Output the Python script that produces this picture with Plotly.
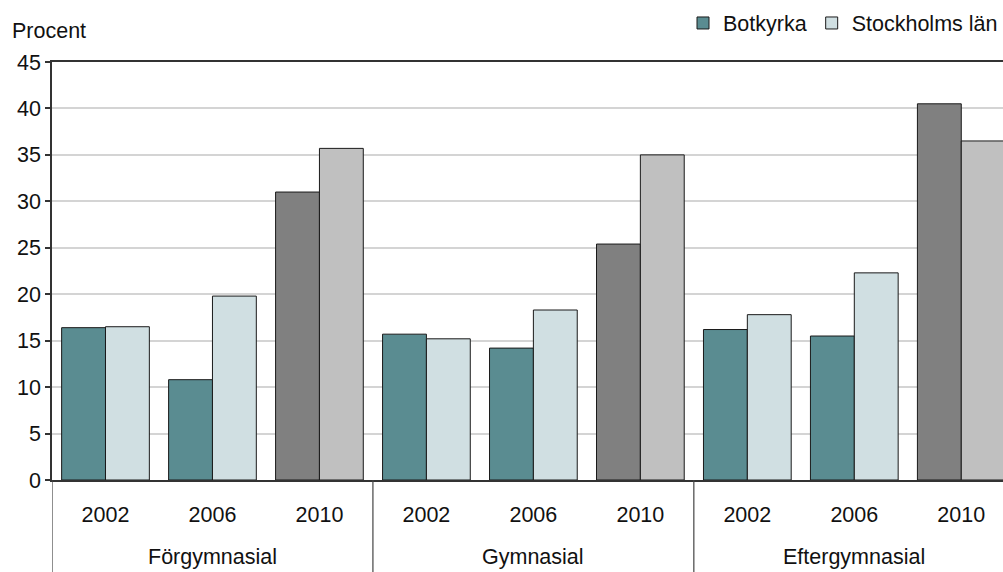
import plotly.graph_objects as go

groups = ["Förgymnasial", "Gymnasial", "Eftergymnasial"]
years = ["2002", "2006", "2010"]
botkyrka = [16.4, 10.8, 31.0, 15.7, 14.2, 25.4, 16.2, 15.5, 40.5]
stockholm = [16.5, 19.8, 35.7, 15.2, 18.3, 35.0, 17.8, 22.3, 36.5]

cats = [f"{g} {y}" for g in groups for y in years]
cat_years = [y for g in groups for y in years]

teal = "#5A8C91"
light = "#D0DFE2"
dark_gray = "#808080"
light_gray = "#C0C0C0"
bot_colors = [dark_gray if y == "2010" else teal for y in cat_years]
sto_colors = [light_gray if y == "2010" else light for y in cat_years]

font_family = "Liberation Sans, Arial, sans-serif"
fs = 21.5
edge = dict(color="#1a1a1a", width=1)

fig = go.Figure()
fig.add_trace(go.Bar(x=cats, y=botkyrka, name="Botkyrka",
                     marker=dict(color=bot_colors, line=edge)))
fig.add_trace(go.Bar(x=cats, y=stockholm, name="Stockholms län",
                     marker=dict(color=sto_colors, line=edge)))

plot_h = 572 - 62 - 92
annotations = [dict(text="Procent", xref="paper", yref="paper", x=-42 / 951, y=1 + 31 / plot_h,
                    xanchor="left", yanchor="middle", showarrow=False, font=dict(size=fs))]
shapes = []
n = len(years)
for i, g in enumerate(groups):
    annotations.append(dict(text=g, xref="x", yref="paper", x=cats[i * n + n // 2],
                            y=-(557 - 480) / plot_h, xanchor="center", yanchor="middle",
                            showarrow=False, font=dict(size=fs)))
    shapes.append(dict(type="line", xref="x", yref="paper", x0=i * n - 0.5, x1=i * n - 0.5,
                       y0=0, y1=-92 / plot_h, line=dict(color="#444444", width=1.2)))

fig.update_layout(
    width=1003, height=572,
    margin=dict(l=52, r=0, t=62, b=92),
    paper_bgcolor="white", plot_bgcolor="white",
    barmode="group", bargap=0.18, bargroupgap=0,
    font=dict(family=font_family, size=fs, color="#111111"),
    showlegend=True,
    legend=dict(orientation="h", x=1.0, xanchor="right", y=1 + 39 / plot_h, yanchor="middle",
                font=dict(size=fs), bgcolor="rgba(0,0,0,0)", itemwidth=30),
    annotations=annotations,
    shapes=shapes,
)
fig.update_xaxes(type="category", range=[-0.5, 8.39], showline=True, linecolor="#333333",
                 linewidth=1.5, mirror=True, showgrid=False, ticks="",
                 tickmode="array", tickvals=cats, ticktext=cat_years,
                 ticklabelstandoff=14, tickfont=dict(size=fs))
fig.update_yaxes(range=[0, 45], dtick=5, showline=True, linecolor="#333333", linewidth=1.5,
                 showgrid=True, gridcolor="#D4D4D4", gridwidth=1.5, zeroline=False,
                 ticks="outside", ticklen=5, tickcolor="#333333", tickwidth=1.5,
                 tickfont=dict(size=fs))

fig.write_html("out.html", config={"displayModeBar": False},
               post_script="document.body.style.margin='0';")
